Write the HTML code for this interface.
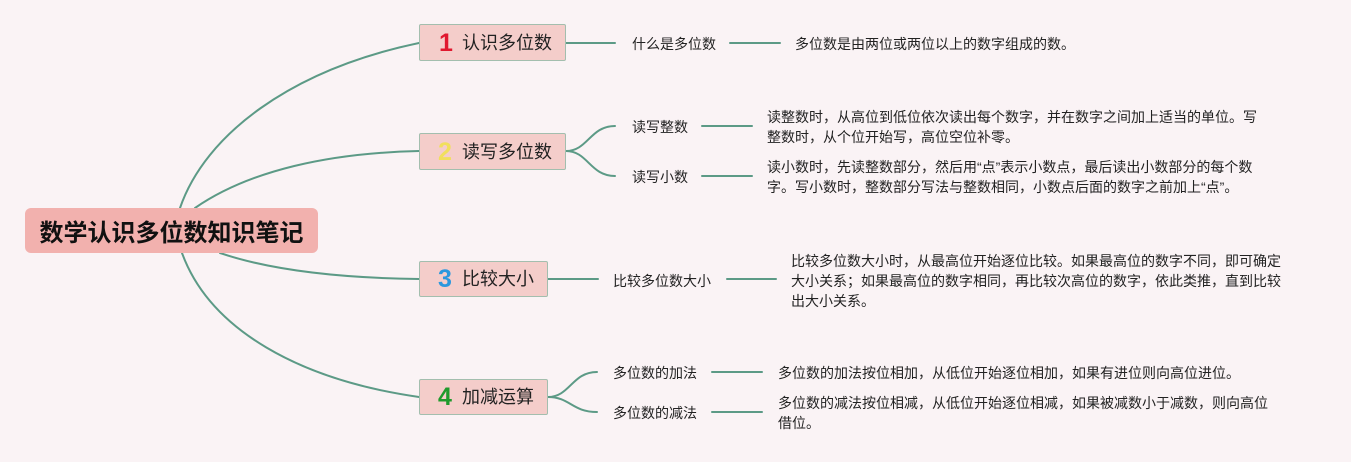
<!DOCTYPE html>
<html>
<head>
<meta charset="utf-8">
<style>
  html,body{margin:0;padding:0;}
  body{width:1351px;height:462px;background:#faf3f5;position:relative;overflow:hidden;
       font-family:"Liberation Sans","Noto Sans CJK SC",sans-serif;color:#1e1e1e;}
  svg{position:absolute;left:0;top:0;}
  .root{position:absolute;left:25px;top:208px;width:293px;height:45px;background:#f2b1ae;border-radius:6px;
        display:flex;align-items:center;justify-content:center;font-weight:bold;font-size:24px;color:#111;letter-spacing:0px;}
  .box{position:absolute;left:419px;background:#f4cdca;border:1.5px solid #a3beae;box-sizing:border-box;border-radius:2px;}
  .num{position:absolute;font-weight:bold;font-size:25px;line-height:30px;}
  .lbl{position:absolute;font-size:18px;line-height:24px;white-space:nowrap;color:#222;}
  .t{position:absolute;font-size:14px;line-height:20px;white-space:nowrap;color:#222;}
  .d{position:absolute;font-size:14px;line-height:19.5px;white-space:nowrap;color:#222;}
</style>
</head>
<body>
<svg width="1351" height="462" viewBox="0 0 1351 462">
  <g fill="none" stroke="#5c9a86" stroke-width="2" stroke-linecap="round">
    <path d="M180,208 C205,135 290,70 419,43"/>
    <path d="M195,208 C250,170 330,153 419,151"/>
    <path d="M220,253 C270,270 340,278 419,279"/>
    <path d="M182,253 C210,330 300,380 419,397"/>
    <path d="M566,43 L615,43"/>
    <path d="M566,151 C588,151 590,126 615,126"/>
    <path d="M566,151 C588,151 590,176 615,176"/>
    <path d="M548,279 L598,279"/>
    <path d="M548,397 C570,397 572,372 597,372"/>
    <path d="M548,397 C570,397 572,412 597,412"/>
    <path d="M730,43 L780,43"/>
    <path d="M702,126 L752,126"/>
    <path d="M702,176 L752,176"/>
    <path d="M727,279 L776,279"/>
    <path d="M712,372 L762,372"/>
    <path d="M712,412 L762,412"/>
  </g>
</svg>

<div class="root">数学认识多位数知识笔记</div>

<div class="box" style="top:24px;width:147px;height:37px;"></div>
<div class="num" style="left:439px;top:28px;color:#e0182f;">1</div>
<div class="lbl" style="left:462px;top:31px;">认识多位数</div>

<div class="box" style="top:133px;width:147px;height:37px;"></div>
<div class="num" style="left:438px;top:137px;color:#f1df5c;">2</div>
<div class="lbl" style="left:462px;top:140px;">读写多位数</div>

<div class="box" style="top:261px;width:129px;height:36px;"></div>
<div class="num" style="left:438px;top:264px;color:#2b98de;">3</div>
<div class="lbl" style="left:462px;top:267px;">比较大小</div>

<div class="box" style="top:379px;width:129px;height:36px;"></div>
<div class="num" style="left:438px;top:382px;color:#1f9a2c;">4</div>
<div class="lbl" style="left:462px;top:385px;">加减运算</div>

<div class="t" style="left:632px;top:34px;">什么是多位数</div>
<div class="t" style="left:795px;top:34px;">多位数是由两位或两位以上的数字组成的数。</div>

<div class="t" style="left:632px;top:117px;">读写整数</div>
<div class="d" style="left:767px;top:108px;">读整数时，从高位到低位依次读出每个数字，并在数字之间加上适当的单位。写<br>整数时，从个位开始写，高位空位补零。</div>

<div class="t" style="left:632px;top:167px;">读写小数</div>
<div class="d" style="left:767px;top:158px;">读小数时，先读整数部分，然后用“点”表示小数点，最后读出小数部分的每个数<br>字。写小数时，整数部分写法与整数相同，小数点后面的数字之前加上“点”。</div>

<div class="t" style="left:613px;top:271px;">比较多位数大小</div>
<div class="d" style="left:791px;top:251px;line-height:20px;">比较多位数大小时，从最高位开始逐位比较。如果最高位的数字不同，即可确定<br>大小关系；如果最高位的数字相同，再比较次高位的数字，依此类推，直到比较<br>出大小关系。</div>

<div class="t" style="left:613px;top:363px;">多位数的加法</div>
<div class="t" style="left:778px;top:363px;">多位数的加法按位相加，从低位开始逐位相加，如果有进位则向高位进位。</div>

<div class="t" style="left:613px;top:403px;">多位数的减法</div>
<div class="d" style="left:778px;top:393px;line-height:20px;">多位数的减法按位相减，从低位开始逐位相减，如果被减数小于减数，则向高位<br>借位。</div>
</body>
</html>
